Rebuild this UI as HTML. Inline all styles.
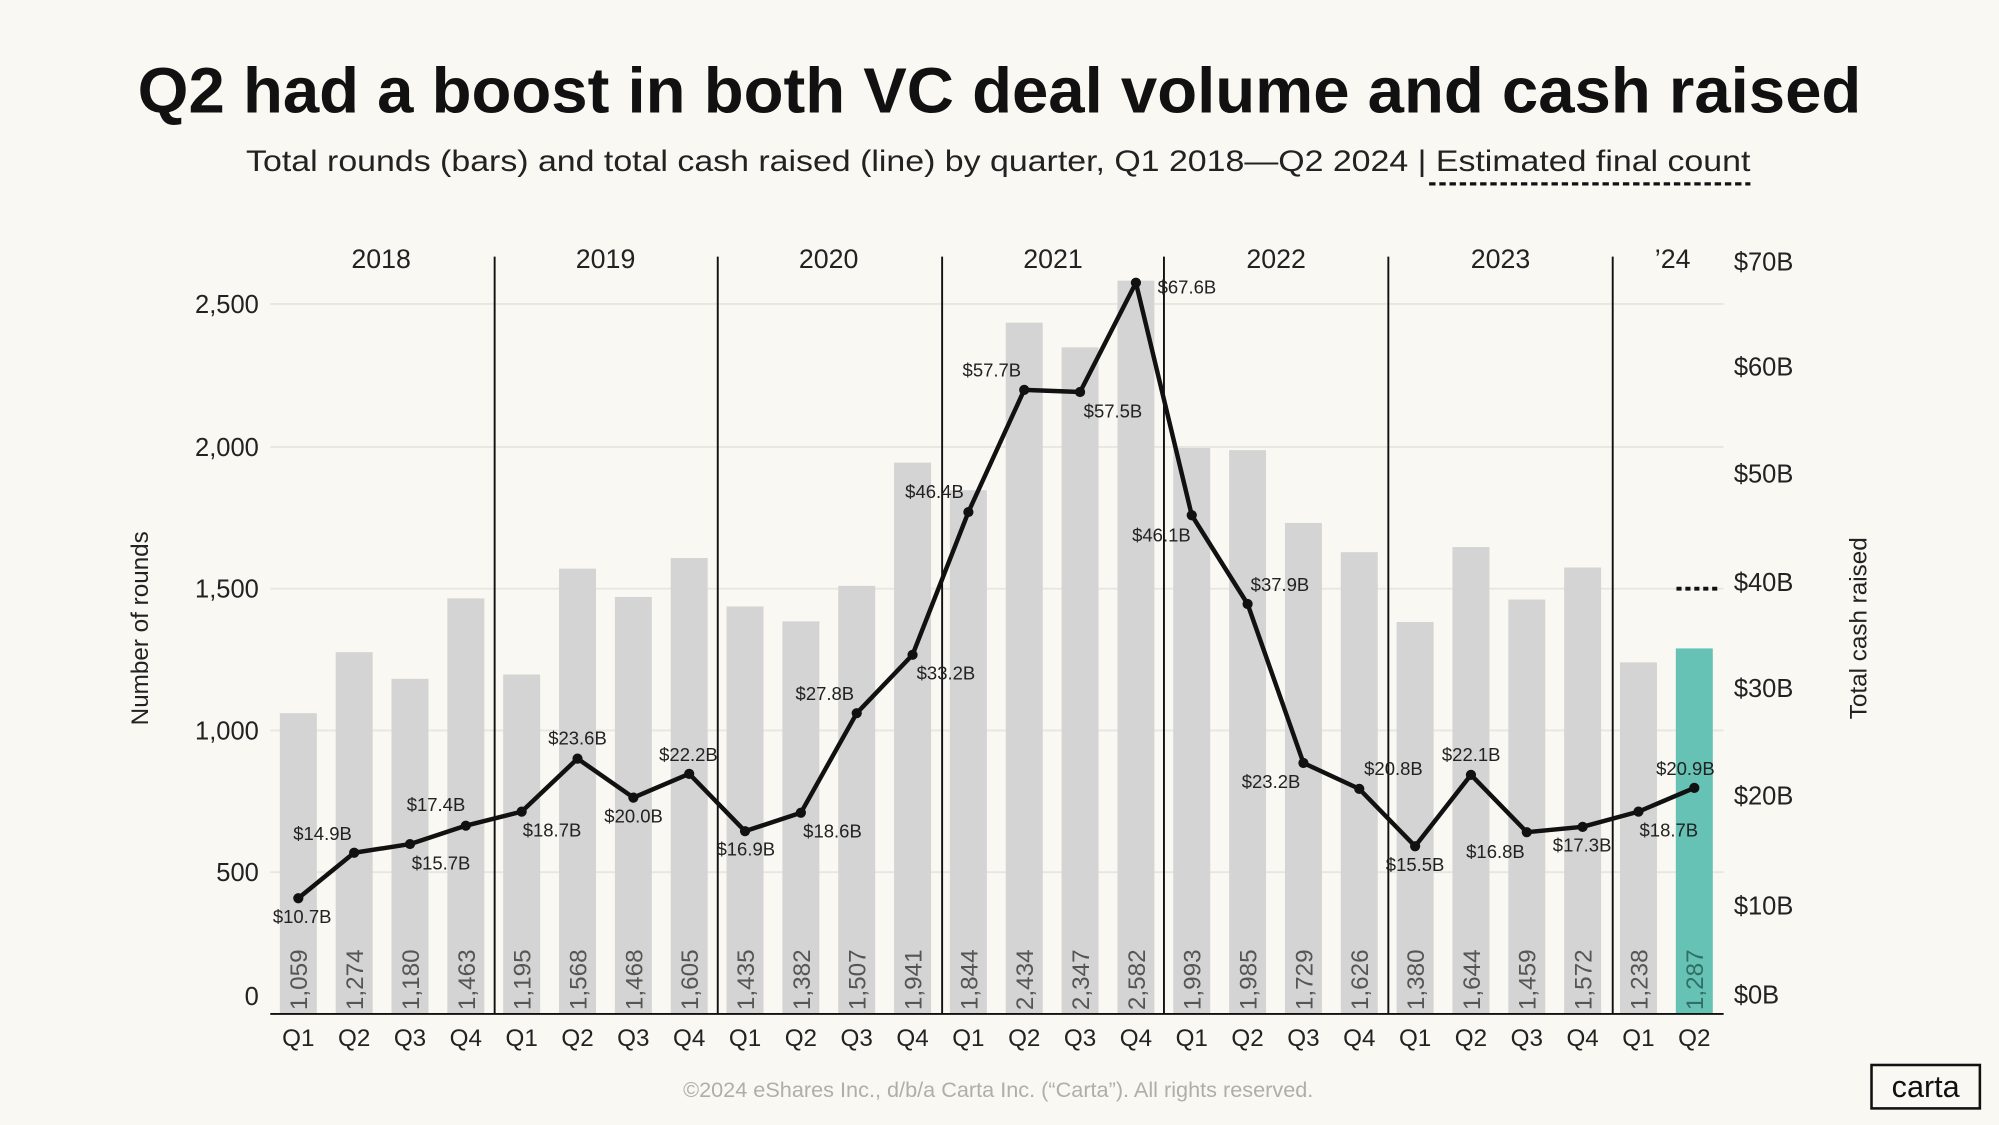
<!DOCTYPE html>
<html><head><meta charset="utf-8"><style>
html,body{margin:0;padding:0;background:#faf8f3;}
svg{display:block;}
text{font-family:"Liberation Sans",sans-serif;}
</style></head><body>
<svg width="1999" height="1125" viewBox="0 0 1568 881" preserveAspectRatio="none" xmlns="http://www.w3.org/2000/svg">
<rect width="1568" height="881" fill="#faf8f3"/>
<text x="784" y="88" text-anchor="middle" font-size="50" font-weight="bold" fill="#111" textLength="1352" lengthAdjust="spacingAndGlyphs">Q2 had a boost in both VC deal volume and cash raised</text>
<text x="193" y="134" font-size="23" fill="#222" textLength="1180" lengthAdjust="spacingAndGlyphs">Total rounds (bars) and total cash raised (line) by quarter, Q1 2018—Q2 2024  |  Estimated final count</text>
<line x1="1121" y1="144" x2="1373" y2="144" stroke="#111" stroke-width="2.5" stroke-dasharray="5,3"/>
<g stroke="#e8e6e1" stroke-width="1.5">
<line x1="212" y1="238" x2="1352" y2="238"/><line x1="212" y1="350" x2="1352" y2="350"/><line x1="212" y1="461" x2="1352" y2="461"/><line x1="212" y1="572" x2="1352" y2="572"/><line x1="212" y1="683" x2="1352" y2="683"/>
</g>
<g fill="#d4d4d4">
<rect x="219.5" y="558.5" width="29" height="235.5"/><rect x="263.3" y="510.7" width="29" height="283.3"/><rect x="307.1" y="531.6" width="29" height="262.4"/><rect x="350.9" y="468.6" width="29" height="325.4"/>
<rect x="394.7" y="528.2" width="29" height="265.8"/><rect x="438.5" y="445.3" width="29" height="348.7"/><rect x="482.3" y="467.5" width="29" height="326.5"/><rect x="526.1" y="437" width="29" height="357"/>
<rect x="569.9" y="474.9" width="29" height="319.1"/><rect x="613.7" y="486.6" width="29" height="307.4"/><rect x="657.5" y="458.8" width="29" height="335.2"/><rect x="701.3" y="362.3" width="29" height="431.7"/>
<rect x="745.1" y="383.9" width="29" height="410.1"/><rect x="788.9" y="252.7" width="29" height="541.3"/><rect x="832.7" y="272" width="29" height="522"/><rect x="876.5" y="219.8" width="29" height="574.2"/>
<rect x="920.3" y="350.8" width="29" height="443.2"/><rect x="964.1" y="352.5" width="29" height="441.5"/><rect x="1007.9" y="409.5" width="29" height="384.5"/><rect x="1051.7" y="432.4" width="29" height="361.6"/>
<rect x="1095.5" y="487.1" width="29" height="306.9"/><rect x="1139.3" y="428.4" width="29" height="365.6"/><rect x="1183.1" y="469.5" width="29" height="324.5"/><rect x="1226.9" y="444.4" width="29" height="349.6"/>
<rect x="1270.7" y="518.7" width="29" height="275.3"/>
</g>
<rect x="1314.5" y="507.8" width="29" height="286.2" fill="#66c2b4"/>
<g font-size="19" fill="#555">
<text transform="translate(241,791) rotate(-90)">1,059</text><text transform="translate(284.8,791) rotate(-90)">1,274</text><text transform="translate(328.6,791) rotate(-90)">1,180</text><text transform="translate(372.4,791) rotate(-90)">1,463</text>
<text transform="translate(416.2,791) rotate(-90)">1,195</text><text transform="translate(460,791) rotate(-90)">1,568</text><text transform="translate(503.8,791) rotate(-90)">1,468</text><text transform="translate(547.6,791) rotate(-90)">1,605</text>
<text transform="translate(591.4,791) rotate(-90)">1,435</text><text transform="translate(635.2,791) rotate(-90)">1,382</text><text transform="translate(679,791) rotate(-90)">1,507</text><text transform="translate(722.8,791) rotate(-90)">1,941</text>
<text transform="translate(766.6,791) rotate(-90)">1,844</text><text transform="translate(810.4,791) rotate(-90)">2,434</text><text transform="translate(854.2,791) rotate(-90)">2,347</text><text transform="translate(898,791) rotate(-90)">2,582</text>
<text transform="translate(941.8,791) rotate(-90)">1,993</text><text transform="translate(985.6,791) rotate(-90)">1,985</text><text transform="translate(1029.4,791) rotate(-90)">1,729</text><text transform="translate(1073.2,791) rotate(-90)">1,626</text>
<text transform="translate(1117,791) rotate(-90)">1,380</text><text transform="translate(1160.8,791) rotate(-90)">1,644</text><text transform="translate(1204.6,791) rotate(-90)">1,459</text><text transform="translate(1248.4,791) rotate(-90)">1,572</text>
<text transform="translate(1292.2,791) rotate(-90)">1,238</text><text transform="translate(1336,791) rotate(-90)" fill="#2f6f66">1,287</text>
</g>
<g stroke="#111" stroke-width="1.5">
<line x1="388" y1="201" x2="388" y2="794"/><line x1="563" y1="201" x2="563" y2="794"/><line x1="739" y1="201" x2="739" y2="794"/><line x1="913" y1="201" x2="913" y2="794"/><line x1="1089" y1="201" x2="1089" y2="794"/><line x1="1265" y1="201" x2="1265" y2="794"/>
<line x1="212" y1="794" x2="1352" y2="794"/>
</g>
<g font-size="21" fill="#222" text-anchor="middle">
<text x="299" y="210">2018</text><text x="475" y="210">2019</text><text x="650" y="210">2020</text><text x="826" y="210">2021</text><text x="1001" y="210">2022</text><text x="1177" y="210">2023</text><text x="1312" y="210">’24</text>
</g>
<polyline fill="none" stroke="#111" stroke-width="3.5" stroke-linejoin="round" points="234,703.4 277.8,667.8 321.6,661 365.4,646.6 409.2,635.6 453,594.1 496.8,624.6 540.6,606 584.4,650.9 628.2,636.5 672,558.5 715.8,512.8 759.6,401 803.4,305.3 847.2,307 891,221.4 934.8,403.5 978.6,473 1022.4,597.5 1066.2,617.8 1110,662.7 1153.8,606.8 1197.6,651.7 1241.4,647.5 1285.2,635.6 1329,617"/>
<g fill="#111">
<circle cx="234" cy="703.4" r="4"/><circle cx="277.8" cy="667.8" r="4"/><circle cx="321.6" cy="661" r="4"/><circle cx="365.4" cy="646.6" r="4"/><circle cx="409.2" cy="635.6" r="4"/><circle cx="453" cy="594.1" r="4"/><circle cx="496.8" cy="624.6" r="4"/><circle cx="540.6" cy="606" r="4"/><circle cx="584.4" cy="650.9" r="4"/><circle cx="628.2" cy="636.5" r="4"/><circle cx="672" cy="558.5" r="4"/><circle cx="715.8" cy="512.8" r="4"/><circle cx="759.6" cy="401" r="4"/><circle cx="803.4" cy="305.3" r="4"/><circle cx="847.2" cy="307" r="4"/><circle cx="891" cy="221.4" r="4"/><circle cx="934.8" cy="403.5" r="4"/><circle cx="978.6" cy="473" r="4"/><circle cx="1022.4" cy="597.5" r="4"/><circle cx="1066.2" cy="617.8" r="4"/><circle cx="1110" cy="662.7" r="4"/><circle cx="1153.8" cy="606.8" r="4"/><circle cx="1197.6" cy="651.7" r="4"/><circle cx="1241.4" cy="647.5" r="4"/><circle cx="1285.2" cy="635.6" r="4"/><circle cx="1329" cy="617" r="4"/>
</g>
<g font-size="14.5" fill="#222" text-anchor="middle">
<text x="237" y="723">$10.7B</text><text x="253" y="658">$14.9B</text><text x="346" y="681">$15.7B</text><text x="342" y="635">$17.4B</text>
<text x="433" y="655">$18.7B</text><text x="453" y="583">$23.6B</text><text x="497" y="644">$20.0B</text><text x="540" y="596">$22.2B</text>
<text x="585" y="670">$16.9B</text><text x="653" y="656">$18.6B</text><text x="647" y="548">$27.8B</text><text x="742" y="532">$33.2B</text>
<text x="733" y="390">$46.4B</text><text x="778" y="295">$57.7B</text><text x="873" y="327">$57.5B</text><text x="931" y="230">$67.6B</text>
<text x="911" y="424">$46.1B</text><text x="1004" y="463">$37.9B</text><text x="997" y="617">$23.2B</text><text x="1093" y="607">$20.8B</text>
<text x="1110" y="682">$15.5B</text><text x="1154" y="596">$22.1B</text><text x="1173" y="672">$16.8B</text><text x="1241" y="667">$17.3B</text>
<text x="1309" y="655">$18.7B</text><text x="1322" y="607">$20.9B</text>
</g>
<g font-size="20" fill="#222" text-anchor="end">
<text x="203" y="245">2,500</text><text x="203" y="357">2,000</text><text x="203" y="468">1,500</text><text x="203" y="579">1,000</text><text x="203" y="690">500</text><text x="203" y="787">0</text>
</g>
<g font-size="20" fill="#222">
<text x="1360" y="212">$70B</text><text x="1360" y="294">$60B</text><text x="1360" y="378">$50B</text><text x="1360" y="463">$40B</text><text x="1360" y="546">$30B</text><text x="1360" y="630">$20B</text><text x="1360" y="716">$10B</text><text x="1360" y="786">$0B</text>
</g>
<line x1="1315" y1="461" x2="1348" y2="461" stroke="#111" stroke-width="3" stroke-dasharray="4,3"/>
<text transform="translate(116,492) rotate(-90)" font-size="19" fill="#222" text-anchor="middle">Number of rounds</text>
<text transform="translate(1464,492) rotate(-90)" font-size="19" fill="#222" text-anchor="middle">Total cash raised</text>
<g font-size="19" fill="#222" text-anchor="middle">
<text x="234" y="819">Q1</text><text x="277.8" y="819">Q2</text><text x="321.6" y="819">Q3</text><text x="365.4" y="819">Q4</text>
<text x="409.2" y="819">Q1</text><text x="453" y="819">Q2</text><text x="496.8" y="819">Q3</text><text x="540.6" y="819">Q4</text>
<text x="584.4" y="819">Q1</text><text x="628.2" y="819">Q2</text><text x="672" y="819">Q3</text><text x="715.8" y="819">Q4</text>
<text x="759.6" y="819">Q1</text><text x="803.4" y="819">Q2</text><text x="847.2" y="819">Q3</text><text x="891" y="819">Q4</text>
<text x="934.8" y="819">Q1</text><text x="978.6" y="819">Q2</text><text x="1022.4" y="819">Q3</text><text x="1066.2" y="819">Q4</text>
<text x="1110" y="819">Q1</text><text x="1153.8" y="819">Q2</text><text x="1197.6" y="819">Q3</text><text x="1241.4" y="819">Q4</text>
<text x="1285.2" y="819">Q1</text><text x="1329" y="819">Q2</text>
</g>
<text x="783" y="859" font-size="17" fill="#b0aeaa" text-anchor="middle">©2024 eShares Inc., d/b/a Carta Inc. (“Carta”). All rights reserved.</text>
<rect x="1468" y="834" width="85" height="34" fill="none" stroke="#111" stroke-width="2"/>
<text x="1510.5" y="859" font-size="24" fill="#111" text-anchor="middle">carta</text>
</svg>
</body></html>
